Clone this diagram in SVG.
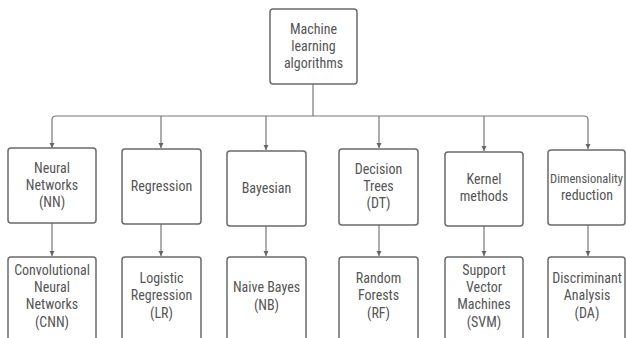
<svg xmlns="http://www.w3.org/2000/svg" width="626" height="338" viewBox="0 0 626 338">
<style>
.box{fill:#fff;stroke:#6a6a6a;stroke-width:1.5}
.t{font-family:"Liberation Sans Narrow","Arial Narrow","Roboto Condensed","Liberation Sans",sans-serif;font-size:14px;fill:#555;text-anchor:middle}
.c{fill:none;stroke:#777;stroke-width:1.2}
</style>
<defs>
<marker id="ah" viewBox="0 0 10 10" refX="10" refY="5" markerWidth="5" markerHeight="6" orient="auto" markerUnits="userSpaceOnUse">
<path d="M0,0 L10,5 L0,10 Z" fill="#666"/>
</marker>
</defs>
<rect width="626" height="338" fill="#fff"/>
<g id="connectors">
<path class="c" d="M313,84 V116"/>
<path class="c" d="M313,116 H56 Q52,116 52,120 V148" marker-end="url(#ah)"/>
<path class="c" d="M313,116 H584 Q588,116 588,120 V149" marker-end="url(#ah)"/>
<path class="c" d="M161,116 V148" marker-end="url(#ah)"/>
<path class="c" d="M266,116 V150" marker-end="url(#ah)"/>
<path class="c" d="M379,116 V148" marker-end="url(#ah)"/>
<path class="c" d="M484,116 V151" marker-end="url(#ah)"/>
<path class="c" d="M52,223 V256" marker-end="url(#ah)"/>
<path class="c" d="M161,224 V256" marker-end="url(#ah)"/>
<path class="c" d="M266,226 V256" marker-end="url(#ah)"/>
<path class="c" d="M379,225 V256" marker-end="url(#ah)"/>
<path class="c" d="M484,226 V256" marker-end="url(#ah)"/>
<path class="c" d="M588,225 V256" marker-end="url(#ah)"/>
</g>
<g id="root">
<rect class="box" x="270" y="9" width="87" height="75" rx="3"/>
<text class="t" x="313.5" y="34">Machine</text>
<text class="t" x="313.5" y="51">learning</text>
<text class="t" x="313.5" y="68">algorithms</text>
</g>
<g id="nn">
<rect class="box" x="8" y="148" width="88" height="75" rx="3"/>
<text class="t" x="52" y="173">Neural</text>
<text class="t" x="52" y="190">Networks</text>
<text class="t" x="52" y="207">(NN)</text>
</g>
<g id="reg">
<rect class="box" x="122" y="149" width="79" height="75" rx="3"/>
<text class="t" x="161.5" y="191">Regression</text>
</g>
<g id="bay">
<rect class="box" x="227" y="151" width="79" height="75" rx="3"/>
<text class="t" x="266.5" y="193">Bayesian</text>
</g>
<g id="dt">
<rect class="box" x="339" y="149" width="79" height="76" rx="3"/>
<text class="t" x="378.5" y="174">Decision</text>
<text class="t" x="378.5" y="191">Trees</text>
<text class="t" x="378.5" y="208">(DT)</text>
</g>
<g id="kern">
<rect class="box" x="445" y="152" width="78" height="74" rx="3"/>
<text class="t" x="484" y="184">Kernel</text>
<text class="t" x="484" y="201">methods</text>
</g>
<g id="dr">
<rect class="box" x="548" y="150" width="77" height="75" rx="3"/>
<text class="t" x="586.5" y="183" style="font-size:12.5px">Dimensionality</text>
<text class="t" x="587" y="200">reduction</text>
</g>
<g id="cnn">
<rect class="box" x="8" y="257" width="88" height="86" rx="3"/>
<text class="t" x="52" y="275">Convolutional</text>
<text class="t" x="52" y="292">Neural</text>
<text class="t" x="52" y="309">Networks</text>
<text class="t" x="52" y="327">(CNN)</text>
</g>
<g id="lr">
<rect class="box" x="122" y="257" width="79" height="86" rx="3"/>
<text class="t" x="161.5" y="283">Logistic</text>
<text class="t" x="161.5" y="300">Regression</text>
<text class="t" x="161.5" y="318">(LR)</text>
</g>
<g id="nb">
<rect class="box" x="227" y="257" width="79" height="86" rx="3"/>
<text class="t" x="266.5" y="292">Naive Bayes</text>
<text class="t" x="266.5" y="310">(NB)</text>
</g>
<g id="rf">
<rect class="box" x="339" y="257" width="79" height="86" rx="3"/>
<text class="t" x="378.5" y="283">Random</text>
<text class="t" x="378.5" y="300">Forests</text>
<text class="t" x="378.5" y="318">(RF)</text>
</g>
<g id="svm">
<rect class="box" x="445" y="257" width="78" height="86" rx="3"/>
<text class="t" x="484" y="275">Support</text>
<text class="t" x="484" y="292">Vector</text>
<text class="t" x="484" y="309">Machines</text>
<text class="t" x="484" y="327">(SVM)</text>
</g>
<g id="da">
<rect class="box" x="548" y="257" width="77" height="86" rx="3"/>
<text class="t" x="587" y="283">Discriminant</text>
<text class="t" x="587" y="300">Analysis</text>
<text class="t" x="587" y="318">(DA)</text>
</g>
</svg>
